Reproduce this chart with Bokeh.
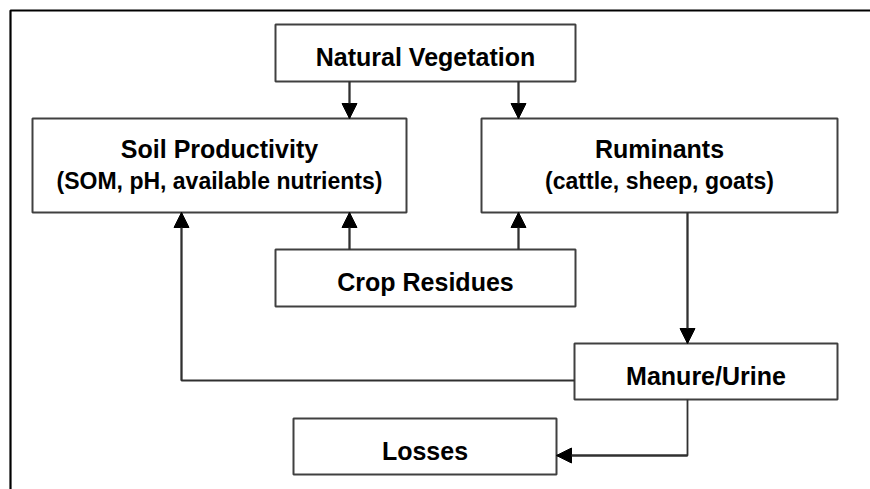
from bokeh.plotting import figure
from bokeh.models import Range1d, Arrow, NormalHead, ColumnDataSource
from bokeh.core.properties import value
from bokeh.embed import file_html
from bokeh.resources import INLINE

# ---- diagram content ----
titles = ["Natural Vegetation", "Soil Productivity", "Ruminants",
          "Crop Residues", "Manure/Urine", "Losses"]
subtitles = ["", "(SOM, pH, available nutrients)", "(cattle, sheep, goats)",
             "", "", ""]

# node geometry (page pixel coordinates)
box_left = [275, 32, 481, 275, 574, 293]
box_right = [575, 406, 837, 575, 837, 556]
box_top = [24, 118, 118, 249, 343, 418]
box_bottom = [81, 212, 212, 306, 399, 474]
title_base = [56, 148, 148, 281, 375, 450]
sub_base = [0, 180, 180, 0, 0, 0]

# connectors: polylines, arrow head at the last point
paths_x = [[349, 349], [518, 518], [349, 349], [518, 518],
           [687, 687], [574, 181, 181], [687, 687, 556]]
paths_y = [[81, 118], [81, 118], [249, 212], [249, 212],
           [212, 343], [380, 380, 212], [399, 455, 455]]

W, H = 870, 489
p = figure(width=W, height=H, output_backend="svg", toolbar_location=None,
           x_range=Range1d(0, W), y_range=Range1d(H, 0),
           min_border=0)
p.axis.visible = False
p.grid.visible = False
p.outline_line_color = None
p.background_fill_color = "white"
p.border_fill_color = "white"

# outer frame (cut off at right and bottom)
p.line(x=[10, 10, 900], y=[520, 10, 10], line_color="black", line_width=2.2)

# boxes
p.quad(left=box_left, right=box_right, top=box_top, bottom=box_bottom,
       fill_color="white", line_color="#404040", line_width=2)

# connectors
p.multi_line(xs=paths_x, ys=paths_y, line_color="#303030", line_width=1.8)
for xs, ys in zip(paths_x, paths_y):
    p.add_layout(Arrow(end=NormalHead(size=15, fill_color="black",
                                      line_color="black", line_width=1),
                       x_start=xs[-2], y_start=ys[-2],
                       x_end=xs[-1], y_end=ys[-1],
                       line_color="#303030", line_width=1.8))

cx = [(a + b) / 2 for a, b in zip(box_left, box_right)]
src_t = ColumnDataSource(dict(x=cx, y=title_base, t=titles))
p.text(x="x", y="y", text="t", source=src_t, text_align="center",
       text_baseline="alphabetic", text_font=value("Liberation Sans"),
       text_font_style="bold", text_font_size="25px", text_color="black")

sx = [c for c, s in zip(cx, subtitles) if s]
sy = [b for b, s in zip(sub_base, subtitles) if s]
st = [s for s in subtitles if s]
src_s = ColumnDataSource(dict(x=sx, y=sy, t=st))
p.text(x="x", y="y", text="t", source=src_s, text_align="center",
       text_baseline="alphabetic", text_font=value("Liberation Sans"),
       text_font_style="bold", text_font_size="23px", text_color="black")

open("out.html", "w").write(file_html(p, INLINE))
